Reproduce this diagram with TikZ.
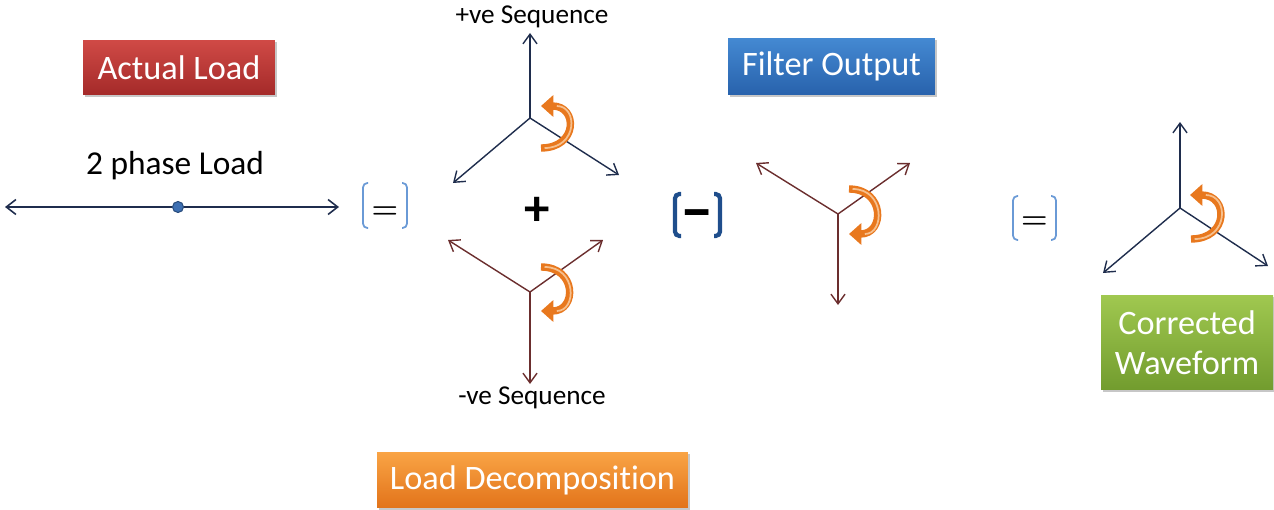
\documentclass[tikz,border=0pt]{standalone}
\usepackage{fontspec}
\setmainfont{Carlito}[Ligatures=NoCommon]
\usetikzlibrary{arrows.meta,shadows}
\definecolor{navyln}{HTML}{1F2D4D}
\definecolor{maroonln}{HTML}{6B2E2E}
\definecolor{orangearr}{HTML}{E8781E}
\definecolor{orangehl}{HTML}{F6C08E}
\definecolor{brlight}{HTML}{6A9AD6}
\definecolor{brdark}{HTML}{1F4E8C}
\definecolor{dotblue}{HTML}{3D6FB2}
\definecolor{redtop}{HTML}{D04A46}
\definecolor{redbot}{HTML}{A42A29}
\definecolor{bluetop}{HTML}{4489D2}
\definecolor{bluebot}{HTML}{2862AC}
\definecolor{ortop}{HTML}{F9A445}
\definecolor{orbot}{HTML}{E2731A}
\definecolor{grtop}{HTML}{A0C850}
\definecolor{grbot}{HTML}{729C2E}
\tikzset{
  lbox/.style={rectangle, inner sep=0pt, text=white, align=center,
    font=\fontsize{19.5}{23}\selectfont,
    drop shadow={shadow xshift=1.2pt, shadow yshift=-1.4pt, fill=black!40, opacity=0.55}},
  phnavy/.style={draw=navyln, line width=0.8pt, -{Straight Barb[length=5.5pt,width=8pt]}},
  phmaroon/.style={draw=maroonln, line width=0.8pt, -{Straight Barb[length=5.5pt,width=8pt]}},
  rotarrow/.style={draw=orangearr, line width=4.2pt, -{Triangle[length=7pt,width=12pt]}},
  rothl/.style={draw=orangehl, line width=1pt, shorten >=9pt, shorten <=2pt},
  brklight/.style={draw=brlight, line width=1pt, rounded corners=2.5pt},
  brkdark/.style={draw=brdark, line width=2.4pt, rounded corners=2.5pt},
  seqlabel/.style={font=\fontsize{15.5}{18}\selectfont, inner sep=0pt},
  optext/.style={font=\fontsize{17}{17}\selectfont\boldmath, inner sep=0pt, anchor=base},
}
\begin{document}
\begin{tikzpicture}[x=0.02cm, y=-0.02cm]
\useasboundingbox (0,0) rectangle (1274,510);

% ---- boxes ----
\node[lbox, top color=redtop, bottom color=redbot, minimum width=3.84cm, minimum height=1.1cm] (actual) at (179,67.5) {Actual Load};
\node[lbox, top color=bluetop, bottom color=bluebot, minimum width=4.14cm, minimum height=1.14cm] (filter) at (831.5,66.5) {Filter Output};
\node[lbox, top color=ortop, bottom color=orbot, minimum width=6.22cm, minimum height=1.12cm] (decomp) at (532.5,480) {Load Decomposition};
\node[lbox, top color=grtop, bottom color=grbot, minimum width=3.44cm, minimum height=1.9cm] (corr) at (1187,342.5) {Corrected\\Waveform};

% ---- 2 phase load ----
\node[font=\fontsize{19}{22}\selectfont, inner sep=0pt] (twoph) at (175,166) {2 phase Load};
\coordinate (hl) at (5,207);
\coordinate (hr) at (339,207);
\draw[draw=navyln, line width=0.9pt, {Straight Barb[length=5.5pt,width=8.5pt]}-{Straight Barb[length=5.5pt,width=8.5pt]}] (hl) -- (hr);
\node[circle, fill=dotblue, draw=dotblue!70!black, line width=0.6pt, inner sep=0pt, minimum size=0.22cm] (dot) at (178,207) {};

% ---- first (=) ----
\draw[brklight] (368,183) -- (363,183) -- (363,228) -- (368,228);
\draw[brklight] (402,183) -- (407,183) -- (407,228) -- (402,228);
\node[optext] (eq1) at (385,218) {$=$};

% ---- positive sequence ----
\coordinate (pc) at (530,118);
\coordinate (pu) at (530,33);
\coordinate (pl) at (453,183);
\coordinate (pr) at (619,175);
\draw[phnavy] (pc) -- (pu);
\draw[phnavy] (pc) -- (pl);
\draw[phnavy] (pc) -- (pr);
\coordinate (pa1) at (541,148);
\coordinate (pa2) at (541,106);
\draw[rotarrow] (pa1) .. controls (578,148) and (578,106) .. (pa2);
\draw[rothl] (pa1) .. controls (578,148) and (578,106) .. (pa2);
\node[seqlabel] (plab) at (532,17) {+ve Sequence};

% ---- plus ----
\node[font=\fontsize{29}{30}\selectfont\bfseries, inner sep=0pt] (plus) at (537,211) {+};

% ---- negative sequence ----
\coordinate (nc) at (530,292);
\coordinate (nul) at (448,240);
\coordinate (nur) at (603,240);
\coordinate (nd) at (530,384);
\draw[phmaroon] (nc) -- (nul);
\draw[phmaroon] (nc) -- (nur);
\draw[phmaroon] (nc) -- (nd);
\coordinate (na1) at (541,267);
\coordinate (na2) at (541,311);
\draw[rotarrow] (na1) .. controls (577,267) and (577,311) .. (na2);
\draw[rothl] (na1) .. controls (577,267) and (577,311) .. (na2);
\node[seqlabel] (nlab) at (532,398) {-ve Sequence};

% ---- (-) ----
\draw[brkdark] (681,194) -- (675,194) -- (675,236) -- (681,236);
\draw[brkdark] (714,194) -- (720,194) -- (720,236) -- (714,236);
\node[font=\fontsize{38}{38}\selectfont\bfseries, inner sep=0pt, anchor=base] (minus) at (697.5,231) {–};

% ---- filter output phasor ----
\coordinate (fc) at (838,214);
\coordinate (ful) at (756,163);
\coordinate (fur) at (910,163);
\coordinate (fd) at (838,305);
\draw[phmaroon] (fc) -- (ful);
\draw[phmaroon] (fc) -- (fur);
\draw[phmaroon] (fc) -- (fd);
\coordinate (fa1) at (849,189);
\coordinate (fa2) at (849,234);
\draw[rotarrow] (fa1) .. controls (885,189) and (885,234) .. (fa2);
\draw[rothl] (fa1) .. controls (885,189) and (885,234) .. (fa2);

% ---- second (=) ----
\draw[brklight] (1018,196) -- (1013,196) -- (1013,240) -- (1018,240);
\draw[brklight] (1051,196) -- (1056,196) -- (1056,240) -- (1051,240);
\node[optext] (eq2) at (1034.5,228) {$=$};

% ---- corrected waveform phasor ----
\coordinate (cc) at (1180,208);
\coordinate (cu) at (1180,122);
\coordinate (cl) at (1103,273);
\coordinate (cr) at (1268,266);
\draw[phnavy] (cc) -- (cu);
\draw[phnavy] (cc) -- (cl);
\draw[phnavy] (cc) -- (cr);
\coordinate (ca1) at (1191,239);
\coordinate (ca2) at (1190,195);
\draw[rotarrow] (ca1) .. controls (1229,239) and (1229,195) .. (ca2);
\draw[rothl] (ca1) .. controls (1229,239) and (1229,195) .. (ca2);
\end{tikzpicture}
\end{document}
